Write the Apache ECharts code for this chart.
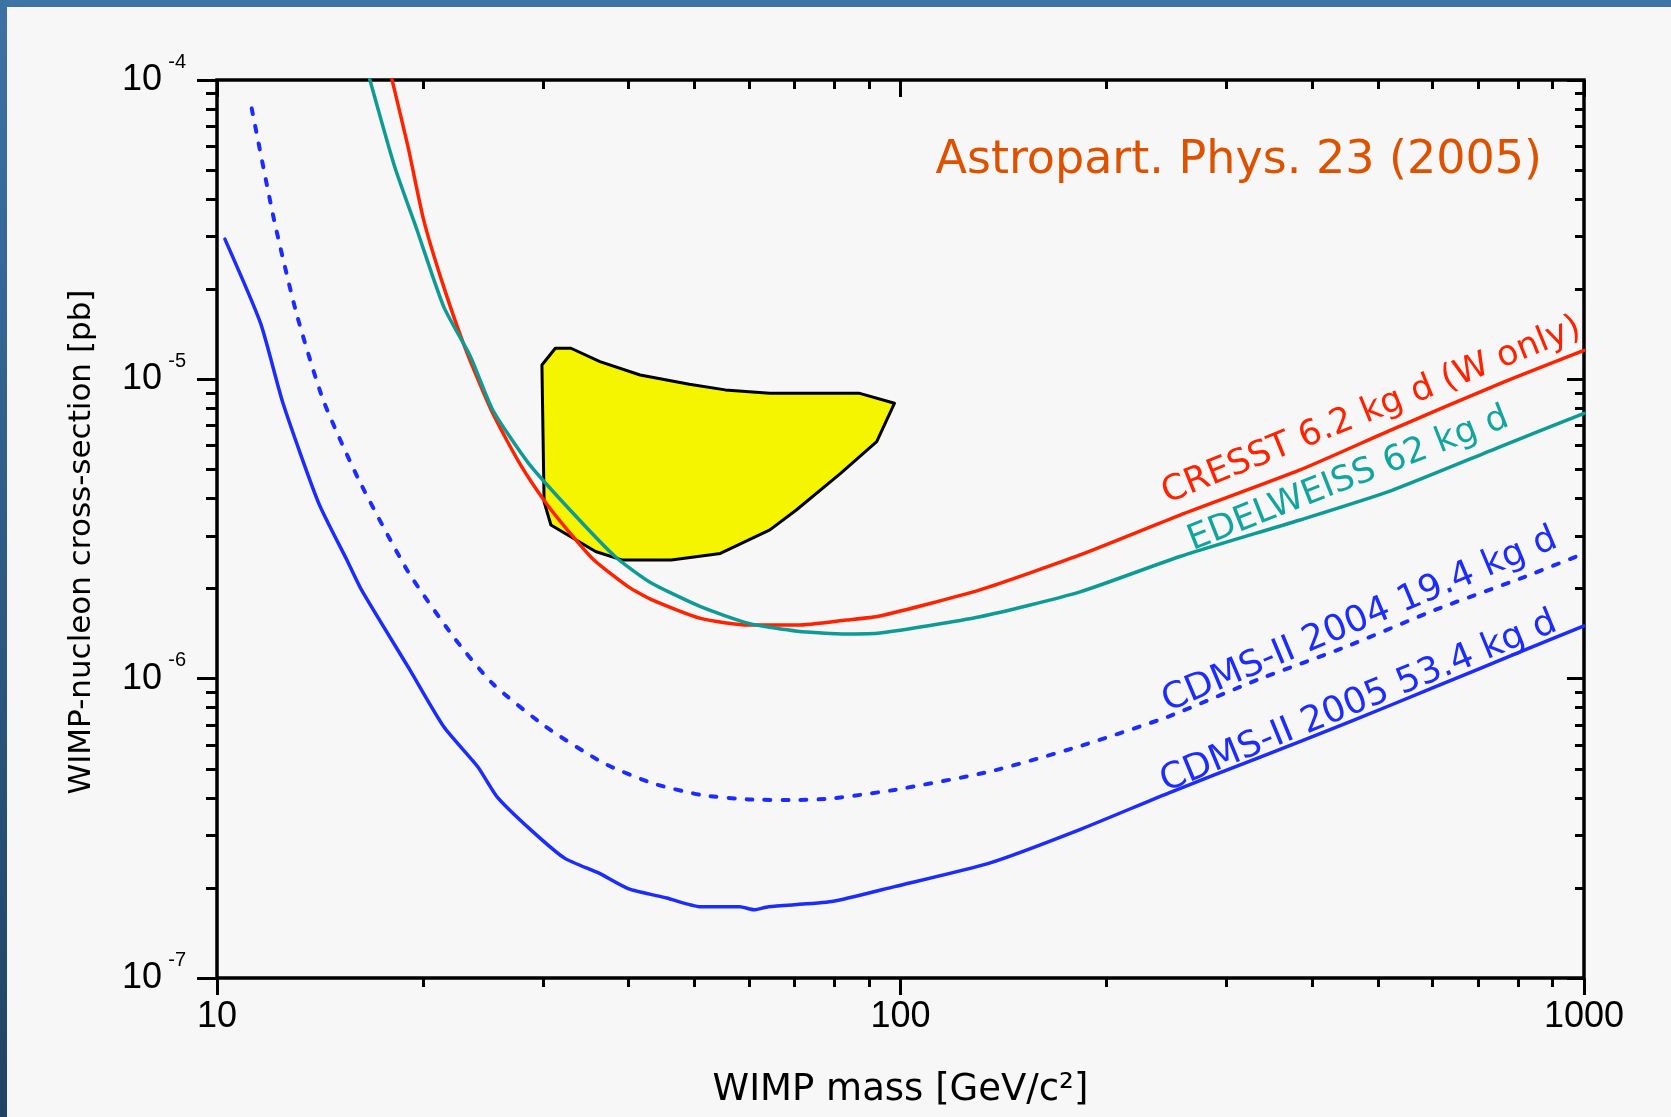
<!DOCTYPE html>
<html>
<head>
<meta charset="utf-8">
<script src="https://cdn.jsdelivr.net/npm/echarts@6/dist/echarts.min.js"></script>
<style>
html,body{margin:0;padding:0;background:#f7f7f7;}
#c{width:1671px;height:1117px;}
</style>
</head>
<body>
<div id="c"></div>
<script>
// ---------------- data ----------------
const massTicks = [10, 100, 1000];
const massMinorTicks = [20, 30, 40, 50, 60, 70, 80, 90, 200, 300, 400, 500, 600, 700, 800, 900];
const sigmaTicks = [1e-7, 1e-6, 1e-5, 1e-4];
const sigmaMinorTicks = [2e-7, 3e-7, 4e-7, 5e-7, 6e-7, 7e-7, 8e-7, 9e-7,
                         2e-6, 3e-6, 4e-6, 5e-6, 6e-6, 7e-6, 8e-6, 9e-6,
                         2e-5, 3e-5, 4e-5, 5e-5, 6e-5, 7e-5, 8e-5, 9e-5];

const cresstMass  = [18.0, 19.03, 20.06, 21.46, 23.14, 25.32, 27.72, 30.33, 33.19, 35.6, 39.94, 43.4, 51, 60, 70.7, 83.3, 93.3, 130.7, 183.1, 256.4, 384.1, 522.6, 755, 1000];
const cresstSigma = [1.02e-4, 5.99e-5, 3.41e-5, 2.04e-5, 1.25e-5, 7.70e-6, 5.24e-6, 3.85e-6, 2.98e-6, 2.49e-6, 2.03e-6, 1.83e-6, 1.59e-6, 1.51e-6, 1.51e-6, 1.57e-6, 1.62e-6, 1.98e-6, 2.59e-6, 3.52e-6, 4.98e-6, 6.78e-6, 9.70e-6, 1.25e-5];

const edelMass  = [16.7, 18.19, 19.61, 21.46, 23.49, 25.32, 28.57, 33.19, 38.3, 43.0, 51, 60, 70.7, 83.3, 93.3, 130.7, 183.1, 256.4, 384.1, 522.6, 755, 1000];
const edelSigma = [1.02e-4, 5.14e-5, 3.16e-5, 1.75e-5, 1.19e-5, 7.90e-6, 5.24e-6, 3.57e-6, 2.55e-6, 2.10e-6, 1.74e-6, 1.53e-6, 1.44e-6, 1.41e-6, 1.42e-6, 1.61e-6, 1.95e-6, 2.56e-6, 3.39e-6, 4.25e-6, 5.96e-6, 7.70e-6];

const cdms2004Mass  = [11.24, 12.12, 13.07, 14.30, 16.13, 19.03, 22.18, 25.28, 30.26, 36.8, 43.4, 51, 60, 70.7, 79.3, 98, 134.9, 182.2, 246.1, 332.4, 449.2, 606.7, 819.7, 1000];
const cdms2004Sigma = [8.04e-5, 3.41e-5, 1.66e-5, 8.53e-6, 4.61e-6, 2.28e-6, 1.38e-6, 9.65e-7, 6.91e-7, 5.22e-7, 4.47e-7, 4.09e-7, 3.95e-7, 3.93e-7, 3.98e-7, 4.25e-7, 4.89e-7, 5.93e-7, 7.46e-7, 9.90e-7, 1.28e-6, 1.70e-6, 2.19e-6, 2.62e-6];

const cdms2005Mass  = [10.27, 11.58, 12.49, 14.09, 15.49, 16.27, 19.15, 21.47, 24.07, 25.69, 28.81, 32.29, 36.22, 39.94, 45.5, 51.0, 58.2, 61.06, 64.1, 79.3, 98.0, 134.9, 182.2, 246.1, 332.4, 449.2, 606.7, 819.7, 1000];
const cdms2005Sigma = [2.94e-5, 1.54e-5, 8.32e-6, 3.85e-6, 2.49e-6, 1.98e-6, 1.07e-6, 6.91e-7, 5.08e-7, 4.03e-7, 3.12e-7, 2.51e-7, 2.24e-7, 1.99e-7, 1.85e-7, 1.73e-7, 1.73e-7, 1.69e-7, 1.73e-7, 1.80e-7, 2.02e-7, 2.42e-7, 3.12e-7, 4.14e-7, 5.42e-7, 7.10e-7, 9.40e-7, 1.247e-6, 1.50e-6];

const regionMass  = [29.88, 31.26, 32.95, 36.33, 41.6, 49.1, 55.4, 64.4, 86.9, 98, 92.3, 81.8, 70.4, 64.4, 54.5, 46.2, 39.2, 35.8, 30.8, 30.1];
const regionSigma = [1.117e-5, 1.27e-5, 1.27e-5, 1.146e-5, 1.034e-5, 9.63e-6, 9.22e-6, 8.99e-6, 8.99e-6, 8.32e-6, 6.19e-6, 4.86e-6, 3.66e-6, 3.14e-6, 2.62e-6, 2.49e-6, 2.49e-6, 2.66e-6, 3.26e-6, 3.90e-6];

const curveNames = ['CRESST 6.2 kg d (W only)', 'EDELWEISS 62 kg d', 'CDMS-II 2004 19.4 kg d', 'CDMS-II 2005 53.4 kg d'];
const labelAnchorMass  = [248, 270.5, 248.8, 247.1];
const labelAnchorSigma = [3.63e-6, 2.53e-6, 7.30e-7, 3.94e-7];

const titleText = 'Astropart. Phys. 23 (2005)';
const xName = 'WIMP mass [GeV/c²]';
const yName = 'WIMP-nucleon cross-section [pb]';

// ---------------- styles ----------------
const RED = '#ff2200', TEAL = '#0f9b95', TEALTXT = '#12a49e', BLUE = '#1c2cff';
const labelStyles = [
  { color: RED, angle: 22, size: 35 },
  { color: TEALTXT, angle: 21.5, size: 35 },
  { color: BLUE, angle: 22.9, size: 36 },
  { color: BLUE, angle: 22.4, size: 36 }
];
const COMIC = '"DejaVu Sans"';
const TICKFONT = '"Liberation Sans"';
const SMOOTH = 0.2;

function zip(a, b) { return a.map((v, i) => [v, b[i]]); }

const hidden = { show: false };
function xAx(pos, ticks, len, inside, extra) {
  return Object.assign({
    type: 'log', logBase: 10, min: 10, max: 1000, position: pos, gridIndex: 0,
    axisLine: { show: false, onZero: false },
    splitLine: hidden, minorTick: hidden, minorSplitLine: hidden,
    axisTick: { show: true, inside: inside, length: len, customValues: ticks, lineStyle: { color: '#000', width: 3 } },
    axisLabel: { show: false }
  }, extra || {});
}
function yAx(pos, ticks, len, inside, extra) {
  return Object.assign({
    type: 'log', logBase: 10, min: 1e-7, max: 1e-4, position: pos, gridIndex: 0,
    axisLine: { show: false, onZero: false },
    splitLine: hidden, minorTick: hidden, minorSplitLine: hidden,
    axisTick: { show: true, inside: inside, length: len, customValues: ticks, lineStyle: { color: '#000', width: 3 } },
    axisLabel: { show: false }
  }, extra || {});
}

const chart = echarts.init(document.getElementById('c'), null, { renderer: 'canvas', width: 1671, height: 1117 });

function curve(name, data, color, extraStyle) {
  return { type: 'line', name: name, xAxisIndex: 0, yAxisIndex: 0, z: 2, symbol: 'none', clip: true,
    smooth: SMOOTH,
    data: data, lineStyle: Object.assign({ color: color, width: 3.5, cap: 'round', join: 'round' }, extraStyle || {}) };
}

const option = {
  animation: false,
  backgroundColor: '#f7f7f7',
  title: {
    text: titleText, right: 124, top: 133,
    textStyle: { fontFamily: COMIC, fontSize: 46, fontWeight: 'normal', color: '#dd5200' }
  },
  graphic: {
    elements: [
      { type: 'rect', x: 0, y: 0, silent: true, shape: { width: 1671, height: 7 }, style: { fill: '#3e74a6' } },
      { type: 'rect', x: 0, y: 0, silent: true, shape: { width: 7, height: 1117 },
        style: { fill: new echarts.graphic.LinearGradient(0, 0, 0, 1, [{ offset: 0, color: '#3d72a4' }, { offset: 1, color: '#1f4364' }]) } }
    ]
  },
  grid: { left: 217, top: 80, width: 1367, height: 898, show: true, borderColor: '#000', borderWidth: 3.5, backgroundColor: 'transparent' },
  xAxis: [
    xAx('bottom', massTicks, 17, false, {
      axisLabel: { show: true, customValues: massTicks, margin: 21, fontFamily: TICKFONT, fontSize: 36, color: '#000',
        showMinLabel: true, showMaxLabel: true, formatter: v => String(Math.round(v)) },
      name: xName, nameLocation: 'middle', nameGap: 94,
      nameTextStyle: { fontFamily: COMIC, fontSize: 37, color: '#000' }
    }),
    xAx('bottom', massMinorTicks, 9, false),
    xAx('top', massTicks, 17, true),
    xAx('top', massMinorTicks, 9, true)
  ],
  yAxis: [
    yAx('left', sigmaTicks, 20, false, {
      axisLabel: { show: true, customValues: sigmaTicks, margin: 55, fontFamily: TICKFONT, fontSize: 36, color: '#000',
        showMinLabel: true, showMaxLabel: true, formatter: () => '10' },
      name: yName, nameLocation: 'middle', nameGap: 120,
      nameTextStyle: { fontFamily: COMIC, fontSize: 31, color: '#000', padding: [0, 26, 0, 0] }
    }),
    yAx('left', sigmaMinorTicks, 11, false),
    yAx('left', sigmaTicks, 0, false, {
      axisTick: { show: false },
      axisLabel: { show: true, customValues: sigmaTicks, margin: 31, fontFamily: TICKFONT, fontSize: 20, color: '#000',
        verticalAlign: 'bottom', lineHeight: 36, showMinLabel: true, showMaxLabel: true,
        formatter: v => String(Math.round(Math.log10(v))) }
    }),
    yAx('right', sigmaTicks, 17, true),
    yAx('right', sigmaMinorTicks, 9, true)
  ],
  series: [
    {
      type: 'custom', name: 'region', xAxisIndex: 0, yAxisIndex: 0, z: 1, silent: true,
      data: zip(regionMass, regionSigma),
      renderItem: function (params, api) {
        if (params.dataIndex !== 0) return null;
        const pts = regionMass.map((m, i) => api.coord([m, regionSigma[i]]));
        return { type: 'polygon', shape: { points: pts },
          style: { fill: '#f5f500', stroke: '#000', lineWidth: 3, lineJoin: 'round' } };
      }
    },
    curve(curveNames[0], zip(cresstMass, cresstSigma), RED),
    curve(curveNames[1], zip(edelMass, edelSigma), TEAL),
    curve(curveNames[2], zip(cdms2004Mass, cdms2004Sigma), BLUE, { width: 4, type: [6, 12] }),
    curve(curveNames[3], zip(cdms2005Mass, cdms2005Sigma), BLUE),
    {
      type: 'custom', name: 'labels', xAxisIndex: 0, yAxisIndex: 0, z: 3, silent: true,
      data: zip(labelAnchorMass, labelAnchorSigma),
      renderItem: function (params, api) {
        const i = params.dataIndex;
        const p = api.coord([api.value(0), api.value(1)]);
        const st = labelStyles[i];
        return { type: 'text', x: p[0], y: p[1], rotation: st.angle * Math.PI / 180,
          style: { text: curveNames[i], fill: st.color, font: st.size + 'px ' + COMIC, align: 'left', verticalAlign: 'bottom' } };
      }
    }
  ]
};
chart.setOption(option);
</script>
</body>
</html>
